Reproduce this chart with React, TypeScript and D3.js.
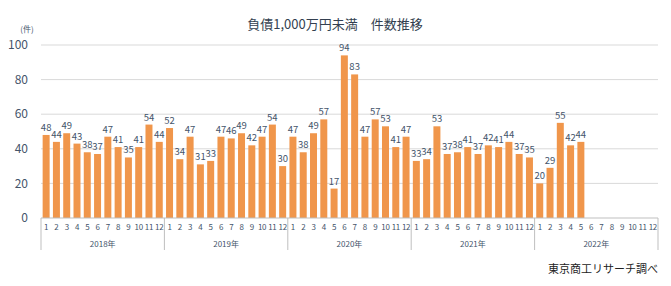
import * as React from 'react';
import * as d3 from 'd3';

const years = ['2018年', '2019年', '2020年', '2021年', '2022年'];
const monthLabels = ['1', '2', '3', '4', '5', '6', '7', '8', '9', '10', '11', '12'];

// 月別件数（2022年は5月まで）
const counts2018 = [48, 44, 49, 43, 38, 37, 47, 41, 35, 41, 54, 44];
const counts2019 = [52, 34, 47, 31, 33, 47, 46, 49, 42, 47, 54, 30];
const counts2020 = [47, 38, 49, 57, 17, 94, 83, 47, 57, 53, 41, 47];
const counts2021 = [33, 34, 53, 37, 38, 41, 37, 42, 41, 44, 37, 35];
const counts2022 = [20, 29, 55, 42, 44];

const yTicks = [0, 20, 40, 60, 80, 100];

const W = 671, H = 286;
const margin = { left: 41, right: 13, top: 45, bottom: 68 };
const font = '"Noto Sans CJK JP", "Noto Sans", sans-serif';
const textColor = '#44546a';
const barColor = '#f0964b';

const App: React.FC = () => {
  const ref = React.useRef<SVGSVGElement>(null);

  React.useEffect(() => {
    const all = [counts2018, counts2019, counts2020, counts2021, counts2022];
    const data: { key: string, year: number, month: string, value: number | null }[] = [];
    years.forEach((y, yi) => {
      monthLabels.forEach((m, mi) => {
        const v = all[yi][mi];
        data.push({ key: `${y}-${m}`, year: yi, month: m, value: v === undefined ? null : v });
      });
    });

    const svg = d3.select(ref.current);
    svg.selectAll('*').remove();

    const x = d3.scaleBand()
      .domain(data.map(d => d.key))
      .range([margin.left, W - margin.right])
      .paddingInner(0.32)
      .paddingOuter(0.16);

    const y = d3.scaleLinear()
      .domain([0, 100])
      .range([H - margin.bottom, margin.top]);

    const step = x.step();
    const x0 = margin.left;
    const x1 = W - margin.right;
    const base = y(0);

    // gridlines
    svg.append('g')
      .selectAll('line')
      .data(yTicks.slice(1))
      .enter()
      .append('line')
      .attr('x1', x0).attr('x2', x1)
      .attr('y1', d => y(d)).attr('y2', d => y(d))
      .attr('stroke', '#d9d9d9').attr('stroke-width', 1);

    // y labels
    svg.append('g')
      .selectAll('text')
      .data(yTicks)
      .enter()
      .append('text')
      .attr('x', 28)
      .attr('y', d => y(d))
      .attr('dy', '0.35em')
      .attr('text-anchor', 'end')
      .attr('font-size', 12)
      .attr('font-family', font)
      .attr('fill', textColor)
      .text(d => d);

    svg.append('text')
      .attr('x', 27).attr('y', 32)
      .attr('text-anchor', 'middle')
      .attr('font-size', 8)
      .attr('font-family', font)
      .attr('fill', textColor)
      .text('(件)');

    // bars
    const withValue = data.filter(d => d.value !== null);
    svg.append('g')
      .selectAll('rect')
      .data(withValue)
      .enter()
      .append('rect')
      .attr('x', d => x(d.key) || 0)
      .attr('width', x.bandwidth())
      .attr('y', d => y(d.value as number))
      .attr('height', d => base - y(d.value as number))
      .attr('fill', barColor);

    // data labels
    svg.append('g')
      .selectAll('text')
      .data(withValue)
      .enter()
      .append('text')
      .attr('x', d => (x(d.key) || 0) + x.bandwidth() / 2)
      .attr('y', d => y(d.value as number) - 4)
      .attr('text-anchor', 'middle')
      .attr('font-size', 9.5)
      .attr('font-family', font)
      .attr('fill', textColor)
      .text(d => `${d.value}`);

    // axis line
    svg.append('line')
      .attr('x1', x0).attr('x2', x1)
      .attr('y1', base).attr('y2', base)
      .attr('stroke', '#bfbfbf');

    // month labels
    svg.append('g')
      .selectAll('text')
      .data(data)
      .enter()
      .append('text')
      .attr('x', d => (x(d.key) || 0) + x.bandwidth() / 2)
      .attr('y', base + 9)
      .attr('dy', '0.35em')
      .attr('text-anchor', 'middle')
      .attr('font-size', 8)
      .attr('font-family', font)
      .attr('fill', textColor)
      .attr('letter-spacing', -0.3)
      .text(d => d.month);

    // year separators
    svg.append('g')
      .selectAll('line')
      .data(d3.range(years.length + 1))
      .enter()
      .append('line')
      .attr('x1', i => x0 + i * step * 12).attr('x2', i => x0 + i * step * 12)
      .attr('y1', base).attr('y2', base + 32)
      .attr('stroke', '#bfbfbf');

    // year labels
    svg.append('g')
      .selectAll('text')
      .data(years)
      .enter()
      .append('text')
      .attr('x', (_d, i) => x0 + (i + 0.5) * step * 12)
      .attr('y', base + 26)
      .attr('dy', '0.35em')
      .attr('text-anchor', 'middle')
      .attr('font-size', 8)
      .attr('font-family', font)
      .attr('fill', textColor)
      .text(d => d);

    // title
    svg.append('text')
      .attr('x', 335).attr('y', 29)
      .attr('text-anchor', 'middle')
      .attr('font-size', 13)
      .attr('font-family', font)
      .attr('fill', '#333f50')
      .text('負債1,000万円未満　件数推移');

    // source
    svg.append('text')
      .attr('x', 658).attr('y', 273)
      .attr('text-anchor', 'end')
      .attr('font-size', 11)
      .attr('font-family', font)
      .attr('fill', '#222')
      .text('東京商工リサーチ調べ');
  }, []);

  return (
    <svg ref={ref} width={W} height={H} style={{ position: 'absolute', left: 0, top: 0, background: '#fff' }} />
  );
};

export default App;
